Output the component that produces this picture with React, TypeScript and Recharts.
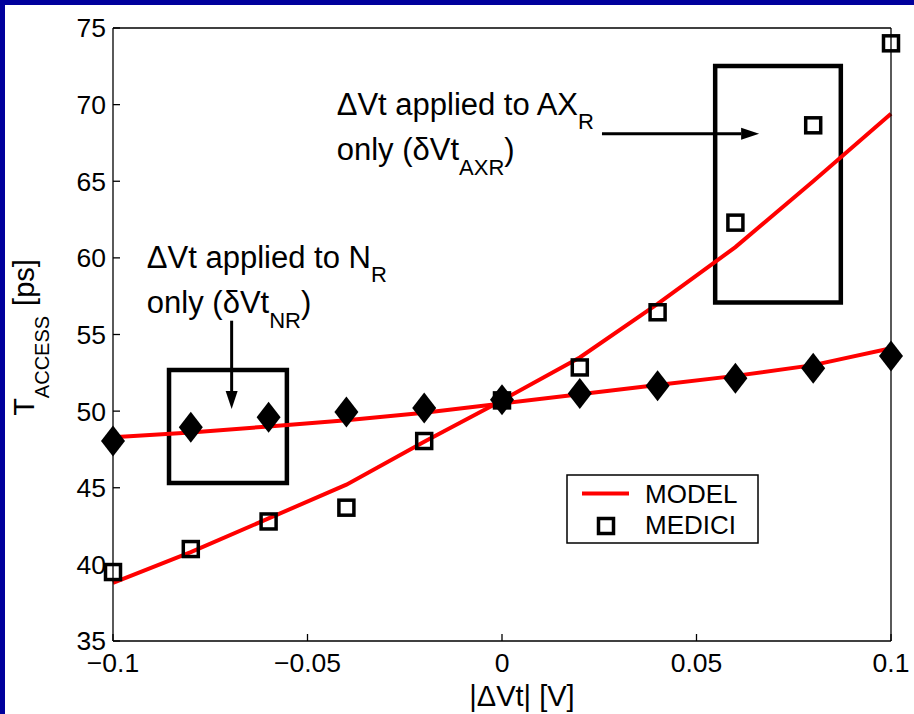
import {
  ComposedChart,
  Line,
  Scatter,
  XAxis,
  YAxis,
  ReferenceArea,
  ReferenceLine,
  ReferenceDot,
} from "recharts";

const FONT = '"Liberation Sans", Arial, Helvetica, sans-serif';

// |dVt| sweep [V]
const dvt = [-0.1, -0.08, -0.06, -0.04, -0.02, 0, 0.02, 0.04, 0.06, 0.08, 0.1];
// access time [ps]
const modelNR = [48.3, 48.6, 49.0, 49.4, 49.9, 50.5, 51.1, 51.7, 52.3, 53.0, 54.1];
const modelAXR = [38.8, 40.8, 43.0, 45.2, 48.0, 50.7, 53.5, 57.0, 60.7, 65.0, 69.4];
const mediciNR = [48.05, 48.95, 49.6, 49.95, 50.2, 50.75, 51.15, 51.65, 52.15, 52.8, 53.6];
const mediciAXR = [39.5, 41.0, 42.8, 43.7, 48.05, 50.7, 52.85, 56.45, 62.3, 68.65, 74.0];

const xTicks = [-0.1, -0.05, 0, 0.05, 0.1];
const yTicks = [35, 40, 45, 50, 55, 60, 65, 70, 75];

// annotation boxes and arrows, in axis units
const boxNR = { x1: -0.0856, x2: -0.0553, y1: 45.31, y2: 52.68 };
const boxAXR = { x1: 0.0548, x2: 0.0871, y1: 57.08, y2: 72.52 };
const arrowNR = [{ x: -0.0695, y: 55.9 }, { x: -0.0695, y: 50.14 }];
const arrowAXR = [{ x: 0.0257, y: 68.1 }, { x: 0.0661, y: 68.1 }];
const noteNR = { x: -0.0913, y: 59.34 };
const noteAXR = { x: -0.0425, y: 69.32 };

const toPoints = (ys: number[]) => dvt.map((x, i) => ({ x, y: ys[i] }));

const fmtX = (v: number) => (v < 0 ? "\u2212" : "") + Math.abs(v);

const Square = (props: any) => {
  const { cx, cy } = props;
  return (
    <rect x={cx - 7.5} y={cy - 7.5} width={15} height={15} fill="none" stroke="#000" strokeWidth={3.5} />
  );
};

const Diamond = (props: any) => {
  const { cx, cy } = props;
  return (
    <polygon
      points={`${cx},${cy - 15.5} ${cx + 12},${cy} ${cx},${cy + 15.5} ${cx - 12},${cy}`}
      fill="#000"
    />
  );
};

const Arrow = (props: any) => {
  const { x1, y1, x2, y2 } = props;
  const len = Math.hypot(x2 - x1, y2 - y1) || 1;
  const ux = (x2 - x1) / len;
  const uy = (y2 - y1) / len;
  const hl = 18;
  const hw = 6;
  const bx = x2 - ux * hl;
  const by = y2 - uy * hl;
  return (
    <g>
      <line x1={x1} y1={y1} x2={bx} y2={by} stroke="#000" strokeWidth={3} />
      <polygon
        points={`${x2},${y2} ${bx - uy * hw},${by + ux * hw} ${bx + uy * hw},${by - ux * hw}`}
        fill="#000"
      />
    </g>
  );
};

const NoteNR = (p: any) => (
  <text x={p.cx} y={p.cy} fontFamily={FONT} fontSize={31} fill="#000">
    <tspan>ΔVt applied to N</tspan>
    <tspan fontSize={22} dy={14}>R</tspan>
    <tspan x={p.cx} dy={31}>only (δVt</tspan>
    <tspan fontSize={22} dy={15}>NR</tspan>
    <tspan dy={-15}>)</tspan>
  </text>
);

const NoteAXR = (p: any) => (
  <text x={p.cx} y={p.cy} fontFamily={FONT} fontSize={31} fill="#000">
    <tspan>ΔVt applied to AX</tspan>
    <tspan fontSize={22} dy={14}>R</tspan>
    <tspan x={p.cx} dy={31}>only (δVt</tspan>
    <tspan fontSize={22} dy={15}>AXR</tspan>
    <tspan dy={-15}>)</tspan>
  </text>
);

const XTitle = ({ viewBox }: any) => (
  <text
    x={viewBox.x + viewBox.width / 2 + 20}
    y={viewBox.y + 65}
    textAnchor="middle"
    fontFamily={FONT}
    fontSize={29}
    fill="#000"
  >
    |ΔVt| [V]
  </text>
);

const YTitle = ({ viewBox }: any) => {
  const cx = viewBox.x + 34;
  const cy = viewBox.y + viewBox.height / 2 + 3;
  return (
    <text
      transform={`translate(${cx},${cy}) rotate(-90)`}
      textAnchor="middle"
      fontFamily={FONT}
      fontSize={29}
      fill="#000"
    >
      T
      <tspan fontSize={20} dy={15}>ACCESS</tspan>
      <tspan dy={-15} dx={10}>[ps]</tspan>
    </text>
  );
};

const LegendBox = () => (
  <svg width={194} height={71} style={{ position: "absolute", left: 566, top: 474 }}>
    <rect x={1} y={1} width={191} height={68} fill="#fff" stroke="#000" strokeWidth={1.5} />
    <line x1={16} x2={63} y1={19.5} y2={19.5} stroke="#ff0000" strokeWidth={4} />
    <rect x={32.5} y={44.5} width={15} height={15} fill="none" stroke="#000" strokeWidth={3.5} />
    <text x={79} y={28.5} fontFamily={FONT} fontSize={26} fill="#000">MODEL</text>
    <text x={79} y={60} fontFamily={FONT} fontSize={26} fill="#000">MEDICI</text>
  </svg>
);

const axisStroke = { stroke: "#000", strokeWidth: 1.3 };

export default function App() {
  return (
    <div
      style={{
        position: "fixed",
        left: 0,
        top: 0,
        width: 914,
        height: 714,
        background: "#fff",
        fontFamily: FONT,
        overflow: "hidden",
      }}
    >
      <ComposedChart width={914} height={714} margin={{ top: 0, right: 0, bottom: 0, left: 0 }}>
        <XAxis
          dataKey="x"
          type="number"
          domain={[-0.1, 0.1]}
          ticks={xTicks}
          interval={0}
          tickFormatter={fmtX}
          height={73}
          tickSize={-7}
          tickMargin={19.5}
          axisLine={axisStroke}
          tickLine={axisStroke}
          tick={{ fill: "#000", fontSize: 26.5 }}
          label={XTitle}
        />
        <XAxis
          xAxisId="top"
          orientation="top"
          dataKey="x"
          type="number"
          domain={[-0.1, 0.1]}
          ticks={xTicks}
          interval={0}
          height={28}
          tickSize={-7}
          tick={false}
          axisLine={axisStroke}
          tickLine={axisStroke}
        />
        <YAxis
          dataKey="y"
          type="number"
          domain={[35, 75]}
          ticks={yTicks}
          interval={0}
          width={113}
          tickSize={-7}
          tickMargin={14}
          axisLine={axisStroke}
          tickLine={axisStroke}
          tick={{ fill: "#000", fontSize: 26.5 }}
          label={YTitle}
        />
        <YAxis
          yAxisId="right"
          orientation="right"
          type="number"
          domain={[35, 75]}
          ticks={yTicks}
          interval={0}
          width={23}
          tickSize={-7}
          tick={false}
          axisLine={axisStroke}
          tickLine={axisStroke}
        />

        <Line
          data={toPoints(modelNR)}
          dataKey="y"
          type="linear"
          stroke="#ff0000"
          strokeWidth={4}
          dot={false}
          isAnimationActive={false}
        />
        <Line
          data={toPoints(modelAXR)}
          dataKey="y"
          type="linear"
          stroke="#ff0000"
          strokeWidth={4}
          dot={false}
          isAnimationActive={false}
        />

        <ReferenceArea {...boxNR} fill="none" stroke="#000" strokeWidth={4.5} ifOverflow="visible" />
        <ReferenceArea {...boxAXR} fill="none" stroke="#000" strokeWidth={4.5} ifOverflow="visible" />
        <ReferenceLine segment={arrowNR} shape={Arrow} ifOverflow="visible" />
        <ReferenceLine segment={arrowAXR} shape={Arrow} ifOverflow="visible" />
        <ReferenceDot {...noteNR} r={0} shape={NoteNR} ifOverflow="visible" />
        <ReferenceDot {...noteAXR} r={0} shape={NoteAXR} ifOverflow="visible" />

        <Scatter data={toPoints(mediciNR)} dataKey="y" shape={Diamond} isAnimationActive={false} />
        <Scatter data={toPoints(mediciAXR)} dataKey="y" shape={Square} isAnimationActive={false} />
      </ComposedChart>
      <LegendBox />
      <div style={{ position: "absolute", left: 0, top: 0, width: 914, height: 5, background: "#00009c" }} />
      <div style={{ position: "absolute", left: 0, top: 0, width: 5, height: 714, background: "#00009c" }} />
    </div>
  );
}
